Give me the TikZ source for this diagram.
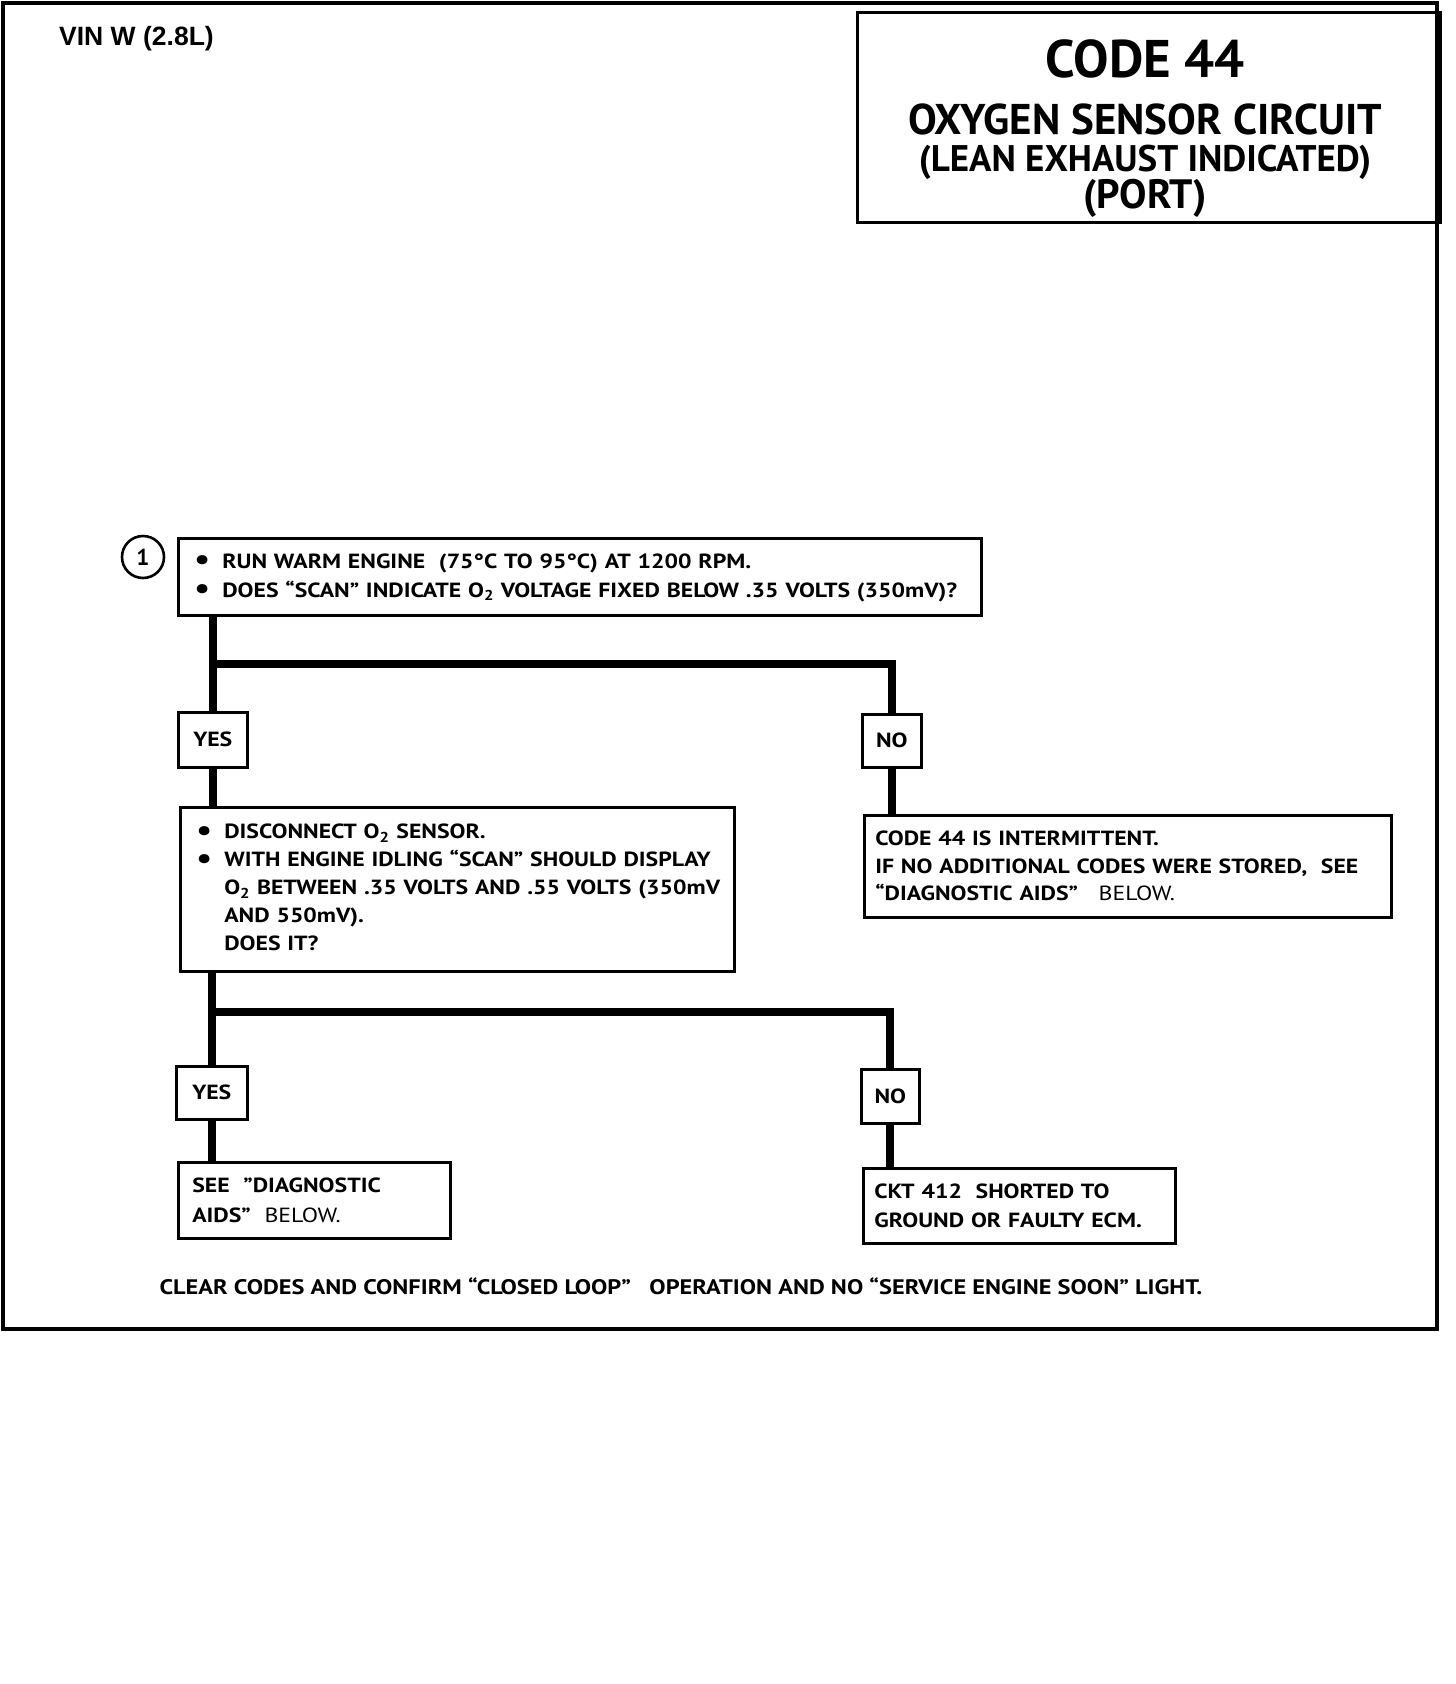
\documentclass[tikz,border=0pt]{standalone}
\usepackage{fontspec}
\setmainfont{PT Sans}[FakeStretch=1.16]
\newfontfamily\titlefont{PT Sans}
\newfontfamily\vinfont{Liberation Sans}
\newcommand{\blt}{\raisebox{-1.5pt}{\fontsize{30}{0}\selectfont •}}
\tikzset{
  frame/.style={line width=4.5pt},
  tbox/.style={draw, line width=3pt},
  box/.style={draw, line width=2.6pt, rectangle, anchor=north west, inner ysep=0pt, align=left,
    font=\bfseries\fontsize{20.5}{29}\selectfont},
  lab/.style={draw, line width=2.6pt, rectangle, anchor=north west, inner sep=0pt,
    font=\bfseries\fontsize{20.5}{24}\selectfont},
  conn/.style={line width=8pt},
  plain/.style={inner sep=0pt, anchor=base},
}
\begin{document}
\begin{tikzpicture}[x=1pt,y=-1pt]
\useasboundingbox (0,0) rectangle (1456,1684);
% outer frame
\draw[frame] (3,3) rectangle (1437,1329);
% title box
\node[tbox, anchor=north west, minimum width=583pt, minimum height=210pt, inner sep=0pt] (title) at (856,11) {};
\node[plain, font=\titlefont\bfseries\fontsize{53}{53}\selectfont] (t1) at (1145,77) {CODE 44};
\node[plain, font=\titlefont\bfseries\fontsize{43}{43}\selectfont] (t2) at (1145,134) {OXYGEN SENSOR CIRCUIT};
\node[plain, font=\titlefont\bfseries\fontsize{37}{37}\selectfont] (t3) at (1145,171) {(LEAN EXHAUST INDICATED)};
\node[plain, font=\titlefont\bfseries\fontsize{41}{41}\selectfont] (t4) at (1145,208) {(PORT)};
\node[inner sep=0pt, anchor=base west, font=\vinfont\bfseries\fontsize{26.5}{26.5}\selectfont] (vin) at (59,45) {VIN W (2.8L)};

% step 1
\node[draw, circle, line width=2.6pt, minimum size=42pt, inner sep=0pt, font=\titlefont\bfseries\fontsize{23}{23}\selectfont] (n1) at (143,557) {1};
\node[box, minimum width=803pt, minimum height=77pt, inner xsep=16pt, text width=771pt] (b1) at (177,537)
 {\begin{tabular}{@{}p{28pt}@{}l@{}}
 \blt& RUN WARM ENGINE\ \ (75°C TO 95°C) AT 1200 RPM.\\
 \blt& DOES “SCAN” INDICATE O\textsubscript{2} VOLTAGE FIXED BELOW .35 VOLTS (350mV)?
 \end{tabular}};

\node[lab, minimum width=69pt, minimum height=55pt] (yes1) at (177,711) {YES};
\node[lab, minimum width=59pt, minimum height=53pt] (no1) at (861,713) {NO};

\node[box, minimum width=554pt, minimum height=164pt, inner xsep=16pt, text width=522pt, font=\bfseries\fontsize{20.5}{28}\selectfont] (b2) at (179,806)
 {\begin{tabular}{@{}p{28pt}@{}l@{}}
 \blt& DISCONNECT O\textsubscript{2} SENSOR.\\
 \blt& WITH ENGINE IDLING “SCAN” SHOULD DISPLAY\\
  & O\textsubscript{2} BETWEEN .35 VOLTS AND .55 VOLTS (350mV\\
  & AND 550mV).\\
  & DOES IT?
 \end{tabular}};

\node[box, minimum width=527pt, minimum height=102pt, inner xsep=11pt, text width=505pt, font=\bfseries\fontsize{20.5}{27.5}\selectfont] (r1) at (863,814)
 {CODE 44 IS INTERMITTENT.\\
  IF NO ADDITIONAL CODES WERE STORED,\ \ SEE\\
  “DIAGNOSTIC AIDS”\ \ \ {\mdseries BELOW.}};

\node[lab, minimum width=71pt, minimum height=53pt] (yes2) at (175,1065) {YES};
\node[lab, minimum width=58pt, minimum height=54pt] (no2) at (860,1068) {NO};

\node[box, minimum width=272pt, minimum height=76pt, inner xsep=14pt, text width=244pt, font=\bfseries\fontsize{20.5}{30}\selectfont] (r2) at (177,1161)
 {SEE\ \ "DIAGNOSTIC\\
  AIDS"\ \ {\mdseries BELOW.}};

\node[box, minimum width=312pt, minimum height=75pt, inner xsep=11pt, text width=290pt, font=\bfseries\fontsize{20.5}{29}\selectfont] (r3) at (862,1167)
 {CKT 412\ \ SHORTED TO\\
  GROUND OR FAULTY ECM.};

\node[plain, font=\bfseries\fontsize{21}{21}\selectfont] (foot) at (681,1294)
 {CLEAR CODES AND CONFIRM “CLOSED LOOP”\ \ \ OPERATION AND NO “SERVICE ENGINE SOON” LIGHT.};

% connectors
\coordinate (j1) at (216,664);
\coordinate (j2) at (214,1012);
\draw[conn] (yes1.north |- b1.south) -- (yes1.north);
\draw[conn] (j1 -| yes1.north) -| (no1.north);
\draw[conn] (yes1.south) -- (yes1.south |- b2.north);
\draw[conn] (no1.south) -- (no1.south |- r1.north);
\draw[conn] (yes2.north |- b2.south) -- (yes2.north);
\draw[conn] (j2 -| yes2.north) -| (no2.north);
\draw[conn] (yes2.south) -- (yes2.south |- r2.north);
\draw[conn] (no2.south) -- (no2.south |- r3.north);
\end{tikzpicture}
\end{document}
